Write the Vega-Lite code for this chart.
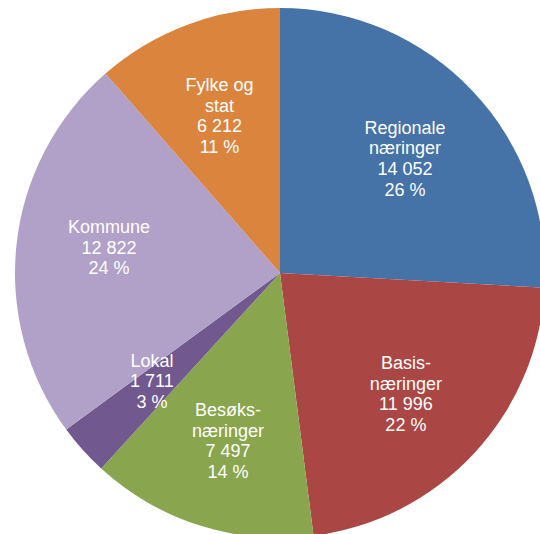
{
  "$schema": "https://vega.github.io/schema/vega-lite/v6.json",
  "width": 520,
  "height": 520,
  "autosize": {"type": "none"},
  "padding": {"left": 20, "top": 13, "right": 0, "bottom": 1},
  "background": "white",
  "view": {"stroke": null},
  "data": {
    "values": [
      {"order": 1, "category": "Regionale næringer", "value": 14052, "label": "Regionale\nnæringer\n14 052\n26 %"},
      {"order": 2, "category": "Basisnæringer", "value": 11996, "label": "Basis-\nnæringer\n11 996\n22 %"},
      {"order": 3, "category": "Besøksnæringer", "value": 7497, "label": "Besøks-\nnæringer\n7 497\n14 %"},
      {"order": 4, "category": "Lokal", "value": 1711, "label": "Lokal\n1 711\n3 %"},
      {"order": 5, "category": "Kommune", "value": 12822, "label": "Kommune\n12 822\n24 %"},
      {"order": 6, "category": "Fylke og stat", "value": 6212, "label": "Fylke og\nstat\n6 212\n11 %"}
    ]
  },
  "encoding": {
    "theta": {"field": "value", "type": "quantitative", "stack": true},
    "order": {"field": "order", "type": "quantitative"}
  },
  "layer": [
    {
      "mark": {"type": "arc", "radius": 265},
      "encoding": {
        "color": {
          "field": "category",
          "type": "nominal",
          "scale": {
            "domain": ["Regionale næringer", "Basisnæringer", "Besøksnæringer", "Lokal", "Kommune", "Fylke og stat"],
            "range": ["#4572A7", "#AA4643", "#89A54E", "#71588F", "#B1A0C7", "#DB843D"]
          },
          "legend": null
        }
      }
    },
    {
      "mark": {
        "type": "text",
        "radius": 172,
        "lineBreak": "\n",
        "fill": "white",
        "font": "Liberation Sans",
        "fontSize": 18,
        "lineHeight": 20.6,
        "align": "center",
        "baseline": "middle",
        "dy": -26
      },
      "encoding": {
        "detail": {"field": "category", "type": "nominal"},
        "text": {"field": "label", "type": "nominal"}
      }
    }
  ]
}
